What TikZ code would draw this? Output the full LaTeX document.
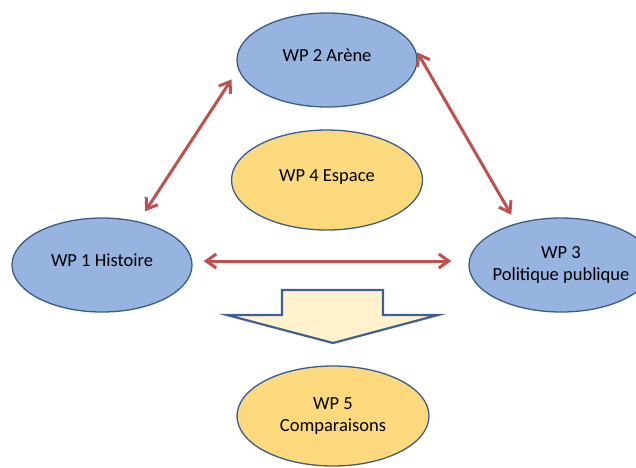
\documentclass[tikz,border=0pt]{standalone}
\usepackage{fontspec}
\setmainfont{Carlito}
\usetikzlibrary{shapes}
\usetikzlibrary{arrows.meta}
\usetikzlibrary{positioning}

\definecolor{wpblue}{RGB}{151,180,225}
\definecolor{wpborder}{RGB}{56,93,138}
\definecolor{wpyellow}{RGB}{253,217,125}
\definecolor{wpcream}{RGB}{255,242,204}
\definecolor{wparrow}{RGB}{62,96,150}
\definecolor{wpred}{RGB}{192,80,77}

\begin{document}
\begin{tikzpicture}[
    x=1pt, y=-1pt,
    font=\fontsize{18.5}{22}\selectfont
]
\tikzset{
    mynodeb/.style = {ellipse, draw=wpborder, line width=1.3pt, align=center, fill=wpblue,
        inner xsep=-25pt, inner ysep=0pt, minimum width=180pt, minimum height=94pt,
        text depth=9pt},
    mynodey/.style = {mynodeb, fill=wpyellow, minimum width=191pt, minimum height=100pt},
    linkr/.style = {{Straight Barb[length=10pt,width=14pt]}-{Straight Barb[length=10pt,width=14pt]},
        line width=3pt, wpred},
    bigarrow/.style = {draw=wparrow, fill=wpcream, line width=2.2pt}
}
\useasboundingbox (0,0) rectangle (636,467);
\node[mynodeb] at (327,60) (wp2) {WP 2 Arène};
\node[mynodey] at (327,180) (wp4) {WP 4 Espace};
\node[mynodeb] at (102,265) (wp1) {WP 1 Histoire};
\node[mynodeb, minimum width=184pt, text depth=] at (561,265) (wp3) {WP 3\\Politique publique};
\node[mynodey, minimum width=192pt, text depth=] at (333,416) (wp5) {WP 5\\Comparaisons};
\draw[linkr, shorten <=12pt, shorten >=12pt] (wp1.50) -- (wp2.186);
\draw[linkr, shorten <=7pt, shorten >=10pt] (wp2.9) -- (wp3.137);
\draw[linkr, shorten <=11pt, shorten >=17pt] ([yshift=4pt]wp1.east) -- ([yshift=4pt]wp3.west);
\draw[bigarrow] (282,290) -- (383,290) -- (383,315) -- (438,315) -- (333,343)
    -- (227,315) -- (282,315) -- cycle;
\end{tikzpicture}
\end{document}
